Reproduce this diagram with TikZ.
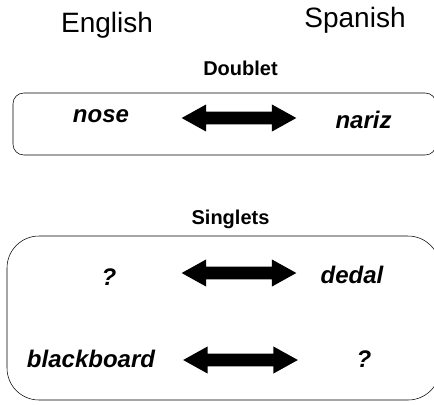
\documentclass[tikz,border=0pt]{standalone}
\usepackage{fontspec}
\setmainfont{Liberation Sans}
\usepackage{tikz}
\usetikzlibrary{shapes.arrows}

\tikzset{
  lang/.style={anchor=base,inner sep=0pt,font=\fontsize{21}{21}\selectfont},
  kind/.style={anchor=base,inner sep=0pt,font=\fontsize{15}{15}\selectfont\bfseries},
  word/.style={anchor=base,inner sep=0pt,font=\fontsize{18}{18}\selectfont\bfseries\itshape},
  pair/.style={double arrow,fill=black,draw=none,inner xsep=0pt,inner ysep=4.5pt,minimum height=86pt,double arrow head extend=5.5pt,double arrow tip angle=58}
}

\begin{document}
\begin{tikzpicture}[x=0.75pt,y=0.75pt,yscale=-1,xscale=1]
        \useasboundingbox (0,0) rectangle (434,404);

        \node [lang] (english) at (107,32) {English};
        \node [lang] (spanish) at (355,27) {Spanish};

        \node [kind] (doublet) at (240.5,75) {Doublet};
        \draw [rounded corners=8] (13,93) rectangle (436,155);
        \node [word] (nose) at (101,122) {nose};
        \node [pair] (arrowa) at (239,118) {};
        \node [word] (nariz) at (363.5,128) {nariz};

        \node [kind] (singlets) at (230.5,224) {Singlets};
        \draw [rounded corners=24] (7,236) rectangle (440,400);
        \node [word] (unknowna) at (109,285) {?};
        \node [pair] (arrowb) at (239,273) {};
        \node [word] (dedal) at (352,283) {dedal};
        \node [word] (blackboard) at (91,367) {blackboard};
        \node [pair] (arrowc) at (240.5,360) {};
        \node [word] (unknownb) at (364,367) {?};

\end{tikzpicture}
\end{document}
